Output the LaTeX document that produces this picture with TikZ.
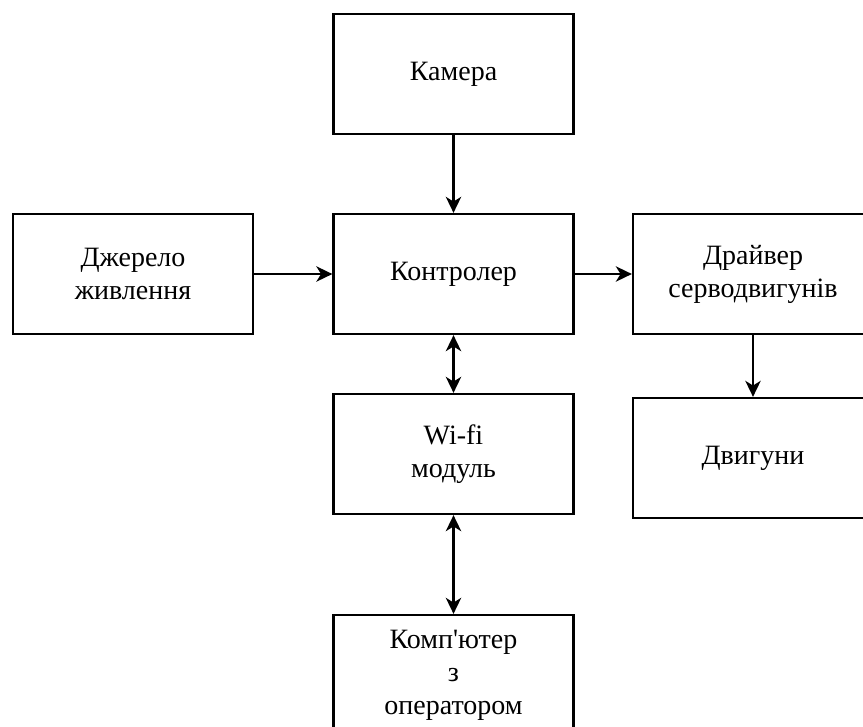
\documentclass[tikz,border=0pt]{standalone}
\usepackage{fontspec}
\setmainfont{Liberation Serif}
\usepackage{xcolor}
\usepackage{tikz}
\usetikzlibrary{arrows.meta, positioning}

\begin{document}
\begin{tikzpicture}[x=0.75pt, y=-0.75pt,
  block/.style={draw, line width=1.7pt, minimum width=180pt, minimum height=90pt,
    align=center, inner sep=0pt, font=\fontsize{21}{24.75}\selectfont},
  link/.style={line width=1.7pt, -{Stealth[length=12pt, width=11.5pt, inset=3.5pt]}},
  duplex/.style={line width=1.7pt, {Stealth[length=12pt, width=11.5pt, inset=3.5pt]}-{Stealth[length=12pt, width=11.5pt, inset=3.5pt]}}]
\useasboundingbox (0,0) rectangle (863,726);
% Blocks
\node[block] (camera) at (453.5, 74) {Камера};
\node[block] (power) at (133, 274) {Джерело\\живлення};
\node[block] (ctrl) at (453.5, 274) {Контролер};
\node[block] (driver) at (753, 274) {Драйвер\\серводвигунів};
\node[block] (wifi) at (453.5, 454) {Wi-fi\\модуль};
\node[block] (motors) at (753, 458) {Двигуни};
\node[block] (pc) at (453.5, 675) {Комп\textquotesingle ютер\\з\\оператором};

% Arrows
\draw[link] (camera) -- (ctrl);
\draw[link] (power) -- (ctrl);
\draw[link] (ctrl) -- (driver);
\draw[link] (driver.south -| motors) -- (motors);
\draw[duplex] (ctrl) -- (wifi);
\draw[duplex] (wifi) -- (pc);
\end{tikzpicture}
\end{document}
